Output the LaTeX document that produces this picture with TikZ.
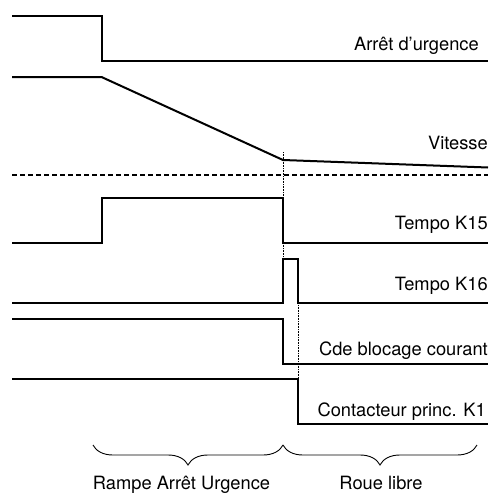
\documentclass[tikz,border=0pt]{standalone}
\usepackage{fontspec}
\setmainfont{TeX Gyre Heros}
\usepackage{tikz}
\usetikzlibrary{decorations.pathreplacing}

\begin{document}
\begin{tikzpicture}[x=1pt, y=-1pt,
  signal/.style={line width=2pt, line join=miter},
  marker/.style={line width=0.7pt, dash pattern=on 0.8pt off 0.8pt},
  siglabel/.style={anchor=base east, inner sep=0pt, font=\fontsize{18.3}{22}\selectfont},
  phase/.style={decorate, decoration={brace, mirror, amplitude=20pt}, line width=0.9pt},
  phaselabel/.style={anchor=base, inner sep=0pt, font=\fontsize{18.3}{22}\selectfont}
]
\useasboundingbox (0,0) rectangle (492,493);

% signals
\draw[signal] (12,16) -- (101.5,16) -- (101.5,61.3) -- (488,61.3);
\draw[signal] (12,77) -- (101.5,77) -- (283,160) -- (488,167.5);
\draw[signal, dash pattern=on 5pt off 3pt] (12,174.5) -- (488,174.5);
\draw[signal] (12,243.3) -- (101.5,243.3) -- (101.5,198.3) -- (283,198.3) -- (283,243.3) -- (488,243.3);
\draw[signal] (12,303.3) -- (283,303.3) -- (283,259) -- (298,259) -- (298,303.3) -- (488,303.3);
\draw[signal] (12,319) -- (283,319) -- (283,364.3) -- (488,364.3);
\draw[signal] (12,379.3) -- (298,379.3) -- (298,423.7) -- (488,423.7);

% time markers
\draw[marker] (283,152) -- (283,259);
\draw[marker] (298,303.3) -- (298,379.3);

\node[siglabel] (au) at (479,50.7) {Arrêt d’urgence};
\node[siglabel] (vit) at (488,149.3) {Vitesse};
\node[siglabel] (k15) at (488,229.3) {Tempo K15};
\node[siglabel] (k16) at (488,290) {Tempo K16};
\node[siglabel] (cde) at (488,355) {Cde blocage courant};
\node[siglabel] (k1) at (486,416) {Contacteur princ. K1};

% phases
\coordinate (ta) at (93,445);
\coordinate (tb) at (283,445);
\coordinate (tc) at (477,445);
\draw[phase] (ta) -- (tb);
\draw[phase] (tb) -- (tc);
\node[phaselabel] (rampe) at (181.5,489) {Rampe Arrêt Urgence};
\node[phaselabel] (roue) at (381,489) {Roue libre};
\end{tikzpicture}
\end{document}
